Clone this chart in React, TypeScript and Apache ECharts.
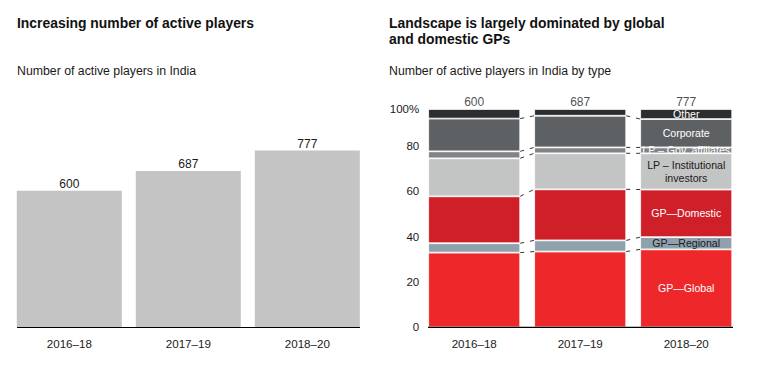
import React, { useEffect, useRef } from "react";
import * as echarts from "echarts";

const categories = ["2016–18", "2017–19", "2018–20"];
const totalPlayers = [600, 687, 777];

// shares by type, percent (bottom to top)
const gpGlobal = [34.2, 34.7, 35.7];
const gpRegional = [4.3, 5.1, 5.6];
const gpDomestic = [21.5, 23.4, 21.8];
const lpInstitutional = [17.4, 16.5, 16.6];
const lpGov = [3.2, 2.7, 2.7];
const corporate = [15.0, 14.5, 13.0];
const other = [4.4, 3.1, 4.6];

const yTicks = [0, 20, 40, 60, 80, 100];

const FONT = "'Liberation Sans', Arial, Helvetica, sans-serif";
const TXT = "#1a1a1a";

const typeSeries = [
  { name: "GP—Global", data: gpGlobal, color: "#ee272b", label: "GP—Global", labelColor: "#ffffff" },
  { name: "GP—Regional", data: gpRegional, color: "#8ea1ac", label: "GP—Regional", labelColor: TXT },
  { name: "GP—Domestic", data: gpDomestic, color: "#cf2029", label: "GP—Domestic", labelColor: "#ffffff" },
  { name: "LP – Institutional investors", data: lpInstitutional, color: "#c3c4c4", label: "LP – Institutional\ninvestors", labelColor: TXT },
  { name: "LP – Gov. affiliates", data: lpGov, color: "#818386", label: "LP – Gov. affiliates", labelColor: "#ffffff" },
  { name: "Corporate", data: corporate, color: "#5e6164", label: "Corporate", labelColor: "#ffffff" },
  { name: "Other", data: other, color: "#2b2d30", label: "Other", labelColor: "#ffffff" },
];

const RIGHT_GAP = 0.132;

export default function App() {
  const ref = useRef<HTMLDivElement>(null);

  useEffect(() => {
    if (!ref.current) return;
    const chart = echarts.init(ref.current, null, { renderer: "svg" });

    // cumulative tops for connector lines
    const cum: number[][] = [];
    let run = [0, 0, 0];
    typeSeries.forEach((s) => {
      run = run.map((r, i) => r + s.data[i]);
      cum.push(run.slice());
    });
    const connectorData: number[][] = [];
    for (let k = 0; k < cum.length - 1; k++) {
      for (let i = 0; i < categories.length - 1; i++) {
        connectorData.push([i, cum[k][i], cum[k][i + 1]]);
      }
    }

    const barSeries = typeSeries.map((s) => ({
      type: "bar",
      name: s.name,
      xAxisIndex: 1,
      yAxisIndex: 2,
      stack: "type",
      barCategoryGap: RIGHT_GAP * 100 + "%",
      itemStyle: { color: s.color, borderColor: "#ffffff", borderWidth: 0.8 },
      data: s.data.map((v, i) =>
        i === categories.length - 1
          ? {
              value: v,
              label: {
                show: true,
                position: "inside",
                formatter: s.label,
                color: s.labelColor,
                fontSize: 10.6,
                lineHeight: 13.3,
                fontFamily: FONT,
              },
            }
          : v
      ),
    }));

    chart.setOption({
      animation: false,
      textStyle: { fontFamily: FONT },
      grid: [
        { left: 9.8, width: 357, top: 100, bottom: 39 },
        { left: 421.2, width: 318, top: 100.8, bottom: 38.7 },
      ],
      xAxis: [
        {
          type: "category",
          gridIndex: 0,
          data: categories,
          axisLine: { show: false },
          axisTick: { show: false },
          axisLabel: { color: TXT, fontSize: 11.6, margin: 10, fontFamily: FONT },
        },
        {
          type: "category",
          gridIndex: 1,
          data: categories,
          axisLine: { show: false },
          axisTick: { show: false },
          axisLabel: { color: TXT, fontSize: 11.6, margin: 10, fontFamily: FONT },
        },
      ],
      yAxis: [
        { type: "value", gridIndex: 0, min: 0, max: 1000, show: false },
        {
          type: "value",
          gridIndex: 1,
          min: 0,
          max: 100,
          interval: 20,
          axisLine: { show: false },
          axisTick: { show: false },
          splitLine: { show: false },
          axisLabel: {
            color: TXT,
            fontSize: 11.5,
            margin: 2,
            fontFamily: FONT,
            customValues: yTicks,
            formatter: (v: number) => (v === 100 ? "{p|100%}" : String(v)),
            rich: { p: { padding: [16, 0, 0, 0], fontSize: 11.5, color: TXT, fontFamily: FONT } },
          },
        },
        { type: "value", gridIndex: 1, min: 0, max: 103.75, show: false },
      ],
      graphic: [
        {
          type: "text",
          style: { text: "Increasing number of active players", x: 17, y: 22.7, verticalAlign: "middle", font: `bold 13.9px ${FONT}`, fill: "#111" },
        },
        {
          type: "text",
          style: { text: "Number of active players in India", x: 17, y: 70.7, verticalAlign: "middle", font: `12.3px ${FONT}`, fill: TXT },
        },
        {
          type: "text",
          style: {
            text: "Landscape is largely dominated by global\nand domestic GPs",
            x: 389,
            y: 30.7,
            verticalAlign: "middle",
            lineHeight: 16,
            font: `bold 13.9px ${FONT}`,
            fill: "#111",
          },
        },
        {
          type: "text",
          style: { text: "Number of active players in India by type", x: 389, y: 71, verticalAlign: "middle", font: `12.3px ${FONT}`, fill: TXT },
        },
        { type: "line", z: 10, shape: { x1: 17, y1: 327.5, x2: 360, y2: 327.5 }, style: { stroke: "#000", lineWidth: 1 } },
        { type: "line", z: 10, shape: { x1: 428, y1: 327.3, x2: 733, y2: 327.3 }, style: { stroke: "#000", lineWidth: 1.2 } },
      ],
      series: [
        {
          type: "bar",
          name: "Active players",
          xAxisIndex: 0,
          yAxisIndex: 0,
          barCategoryGap: "11.76%",
          itemStyle: { color: "#c3c4c3" },
          label: { show: true, position: "top", distance: 1, color: TXT, fontSize: 12, fontFamily: FONT },
          data: totalPlayers,
        },
        ...barSeries,
        {
          type: "scatter",
          name: "Total",
          xAxisIndex: 1,
          yAxisIndex: 2,
          symbolSize: 0,
          label: {
            show: true,
            position: "top",
            distance: 1,
            color: TXT,
            fontSize: 12,
            fontFamily: FONT,
            formatter: (p: any) => String(totalPlayers[p.dataIndex]),
          },
          data: categories.map((_, i) => [i, 100]),
        },
        {
          type: "custom",
          name: "connectors",
          xAxisIndex: 1,
          yAxisIndex: 2,
          z: 5,
          data: connectorData,
          renderItem: (params: any, api: any) => {
            const i = api.value(0);
            const a = api.coord([i, api.value(1)]);
            const b = api.coord([i + 1, api.value(2)]);
            const band = api.size([1, 0])[0];
            const half = (band * (1 - RIGHT_GAP)) / 2;
            return {
              type: "line",
              shape: { x1: a[0] + half, y1: a[1], x2: b[0] - half, y2: b[1] },
              style: { stroke: "#333", lineWidth: 1, lineDash: [4, 6] },
            };
          },
        },
      ],
    });

    return () => chart.dispose();
  }, []);

  return <div ref={ref} style={{ width: 763, height: 366, position: "absolute", left: 0, top: 0 }} />;
}
